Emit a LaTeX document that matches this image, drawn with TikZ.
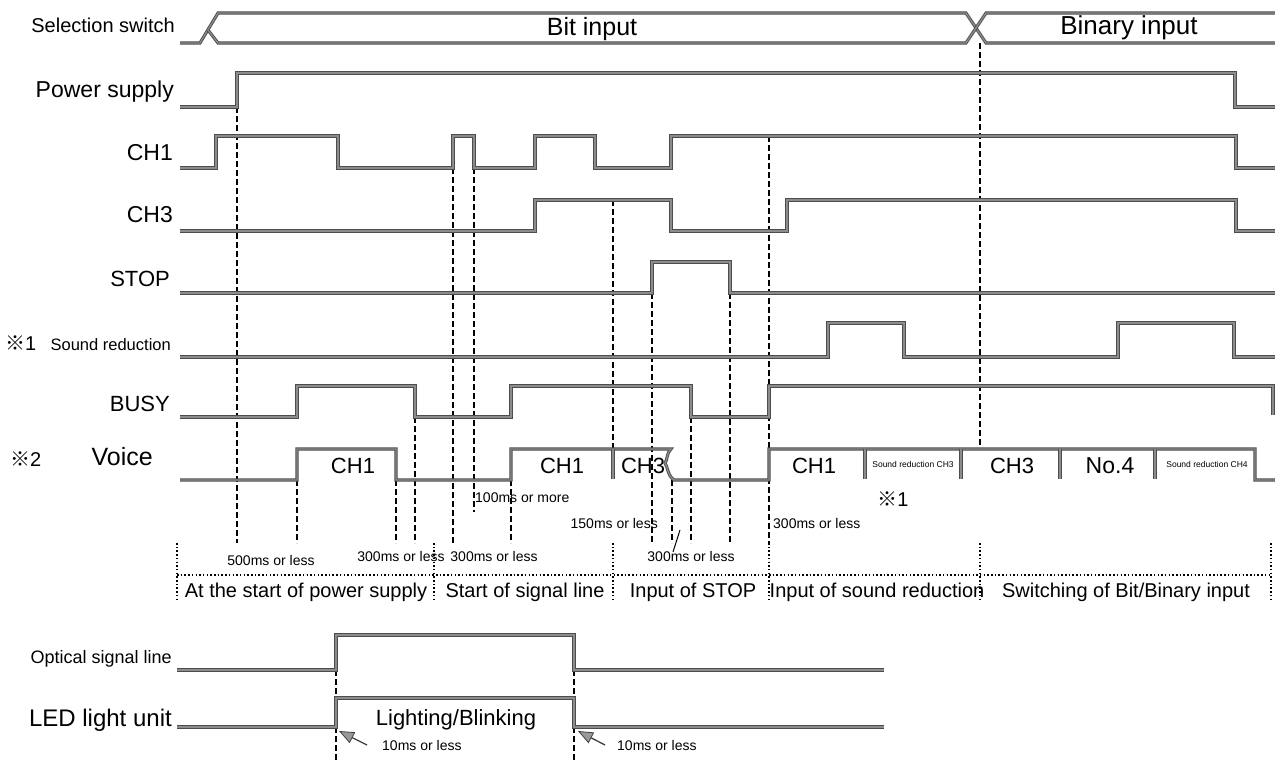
\documentclass[tikz,border=0pt]{standalone}
\usepackage{fontspec}
\setmainfont{Liberation Sans}
\newfontfamily\cjk{Noto Sans CJK JP}
\usetikzlibrary{arrows.meta}
\newcommand{\fsz}[1]{\fontsize{#1}{#1}\selectfont}
\tikzset{
  wave/.style={line width=0.9pt, draw=black!70, double=black!45, double distance=1.3pt, line join=miter},
  guide/.style={line width=1.5pt, dash pattern=on 6pt off 3pt},
  sect/.style={line width=1.5pt, dash pattern=on 1.5pt off 2.2pt},
  lbl/.style={anchor=base east, inner sep=0pt},
  tb/.style={anchor=base, inner sep=0pt},
  tw/.style={anchor=base west, inner sep=0pt},
  te/.style={anchor=base east, inner sep=0pt},
  tim/.style={font=\fsz{14}},
  sec/.style={font=\fsz{20}},
  vtx/.style={font=\fsz{22}},
  srs/.style={font=\fsz{8.5}},
  tick/.style={-{Triangle[length=15pt,width=12pt,line width=0.8pt,fill=black!40]}, line width=1.3pt, draw=black!75}
}
\begin{document}
\begin{tikzpicture}[x=1pt,y=-1pt]
\useasboundingbox (0,0) rectangle (1275,760);
\fill[white] (0,0) rectangle (1275,760);

% ---------- guide (dashed) lines ----------
\coordinate (g1a) at (237,107); \coordinate (g1b) at (237,543);
\coordinate (g2a) at (297,480); \coordinate (g2b) at (297,543);
\coordinate (g3a) at (396,480); \coordinate (g3b) at (396,543);
\coordinate (g4a) at (415,417); \coordinate (g4b) at (415,543);
\coordinate (g5a) at (453,168); \coordinate (g5b) at (453,543);
\coordinate (g6a) at (474,168); \coordinate (g6b) at (474,512);
\coordinate (g7a) at (511,480); \coordinate (g7b) at (511,543);
\coordinate (g8a) at (613,200); \coordinate (g8b) at (613,449);
\coordinate (g9a) at (652,293); \coordinate (g9b) at (652,543);
\coordinate (g10a) at (672,480); \coordinate (g10b) at (672,543);
\coordinate (g11a) at (691,417); \coordinate (g11b) at (691,543);
\coordinate (g12a) at (730,293); \coordinate (g12b) at (730,543);
\coordinate (g13a) at (769,136); \coordinate (g13b) at (769,543);
\coordinate (g14a) at (980,43);  \coordinate (g14b) at (980,449);
\foreach \i in {1,...,14} { \draw[guide] (g\i a) -- (g\i b); }

% ---------- section dividers ----------
\coordinate (sL) at (177,575); \coordinate (sR) at (1271,575);
\draw[sect] (sL) -- (sR);
\foreach \x in {177,434,613,769,980,1271} { \draw[sect] (\x,543) -- (\x,600); }

% ---------- waveforms ----------
% selection switch bus
\draw[wave] (180,43) -- (200,43) -- (218,13) -- (966,13) -- (986,43) -- (1275,43);
\draw[wave] (208,30) -- (218,43) -- (966,43) -- (986,13) -- (1275,13);
% power supply
\draw[wave] (180,107) -- (237,107) -- (237,73) -- (1235,73) -- (1235,107) -- (1275,107);
% CH1
\draw[wave] (180,168) -- (216,168) -- (216,136) -- (338,136) -- (338,168) -- (453,168) -- (453,136) -- (474,136) -- (474,168) -- (535,168) -- (535,136) -- (595,136) -- (595,168) -- (671,168) -- (671,136) -- (1236,136) -- (1236,168) -- (1275,168);
% CH3
\draw[wave] (180,231) -- (535,231) -- (535,200) -- (671,200) -- (671,231) -- (787,231) -- (787,200) -- (1236,200) -- (1236,231) -- (1275,231);
% STOP
\draw[wave] (180,293) -- (652,293) -- (652,262) -- (730,262) -- (730,293) -- (1275,293);
% Sound reduction
\draw[wave] (180,357) -- (828,357) -- (828,323) -- (904,323) -- (904,357) -- (1118,357) -- (1118,323) -- (1234,323) -- (1234,357) -- (1275,357);
% BUSY
\draw[wave] (180,417) -- (297,417) -- (297,386) -- (415,386) -- (415,417) -- (511,417) -- (511,386) -- (691,386) -- (691,417) -- (769,417) -- (769,386) -- (1273,386) -- (1273,415);
% Voice
\draw[wave] (180,480) -- (297,480) -- (297,449) -- (396,449) -- (396,480) -- (511,480) -- (511,449) -- (671,449)
   .. controls (666,454) and (668,459) .. (665,463) .. controls (668,467) and (667,475) .. (674,480)
   -- (769,480) -- (769,449) -- (1255,449) -- (1255,480) -- (1275,480);
\foreach \x in {613,865,961,1060,1155} { \draw[wave] (\x,449) -- (\x,479); }

% ---------- bottom: optical signal / LED ----------
\draw[guide] (336,670) -- (336,698);
\draw[guide] (336,727) -- (336,760);
\draw[guide] (574,670) -- (574,698);
\draw[guide] (574,727) -- (574,760);
\draw[wave] (177,670) -- (336,670) -- (336,635) -- (574,635) -- (574,670) -- (884,670);
\draw[wave] (177,727) -- (336,727) -- (336,698) -- (574,698) -- (574,727) -- (884,727);
\coordinate (a1t) at (367,745); \coordinate (a1h) at (339,731);
\coordinate (a2t) at (605,745); \coordinate (a2h) at (578,731);
\draw[tick] (a1t) -- (a1h);
\draw[tick] (a2t) -- (a2h);

% ---------- row labels ----------
\node[lbl,font=\fsz{20}] (lsel) at (175,33) {Selection switch};
\node[lbl,font=\fsz{23}] (lpow) at (174,98) {Power supply};
\node[lbl,font=\fsz{23}] (lch1) at (173,160) {CH1};
\node[lbl,font=\fsz{23}] (lch3) at (173,222) {CH3};
\node[lbl,font=\fsz{22}] (lstop) at (170,286) {STOP};
\node[lbl,font=\fsz{16.5}] (lsr) at (171,350) {Sound reduction};
\node[tw,font=\fsz{20}] (ref1) at (5,350) {{\cjk ※}1};
\node[lbl,font=\fsz{22}] (lbusy) at (170,411) {BUSY};
\node[lbl,font=\fsz{25}] (lvoice) at (153,465) {Voice};
\node[tw,font=\fsz{20}] (ref2) at (10,466) {{\cjk ※}2};
\node[lbl,font=\fsz{18}] (lopt) at (172,663) {Optical signal line};
\node[lbl,font=\fsz{24}] (lled) at (172,726) {LED light unit};

% ---------- bus texts ----------
\node[tb,font=\fsz{25}] (bit) at (592,36) {Bit input};
\node[tb,font=\fsz{26}] (bin) at (1129,35) {Binary input};

% ---------- voice texts ----------
\node[tb,vtx] (v1) at (353,473) {CH1};
\node[tb,vtx] (v2) at (562,473) {CH1};
\node[tb,vtx] (v3) at (643,473) {CH3};
\node[tb,vtx] (v4) at (814,473) {CH1};
\node[tb,srs] (v5) at (913,467) {Sound reduction CH3};
\node[tb,vtx] (v6) at (1012,473) {CH3};
\node[tb,font=\fsz{23}] (v7) at (1110,473) {No.4};
\node[tb,srs] (v8) at (1207,467) {Sound reduction CH4};
\node[tb,font=\fsz{20}] (ref1b) at (893,506) {{\cjk ※}1};

% ---------- timing texts ----------
\node[tb,tim] (t1) at (271,565) {500ms or less};
\node[tb,tim] (t2) at (401,561) {300ms or less};
\node[tb,tim] (t3) at (494,561) {300ms or less};
\node[tw,tim] (t4) at (475,502) {100ms or more};
\node[te,tim] (t5) at (658,528) {150ms or less};
\node[tb,tim] (t6) at (691,561) {300ms or less};
\node[tw,tim] (t7) at (773,528) {300ms or less};
\coordinate (ld1) at (680,530); \coordinate (ld2) at (673,552);
\draw[line width=1pt] (ld1) -- (ld2);

% ---------- section texts ----------
\node[tb,sec] (s1) at (306,597) {At the start of power supply};
\node[tb,sec] (s2) at (525,597) {Start of signal line};
\node[tb,sec] (s3) at (693,597) {Input of STOP};
\node[tb,sec] (s4) at (877,597) {Input of sound reduction};
\node[tb,sec] (s5) at (1126,597) {Switching of Bit/Binary input};

% ---------- bottom texts ----------
\node[tb,font=\fsz{22}] (lb) at (456,725) {Lighting/Blinking};
\node[tw,tim] (m1) at (382,750) {10ms or less};
\node[tw,tim] (m2) at (617,750) {10ms or less};
\end{tikzpicture}
\end{document}
